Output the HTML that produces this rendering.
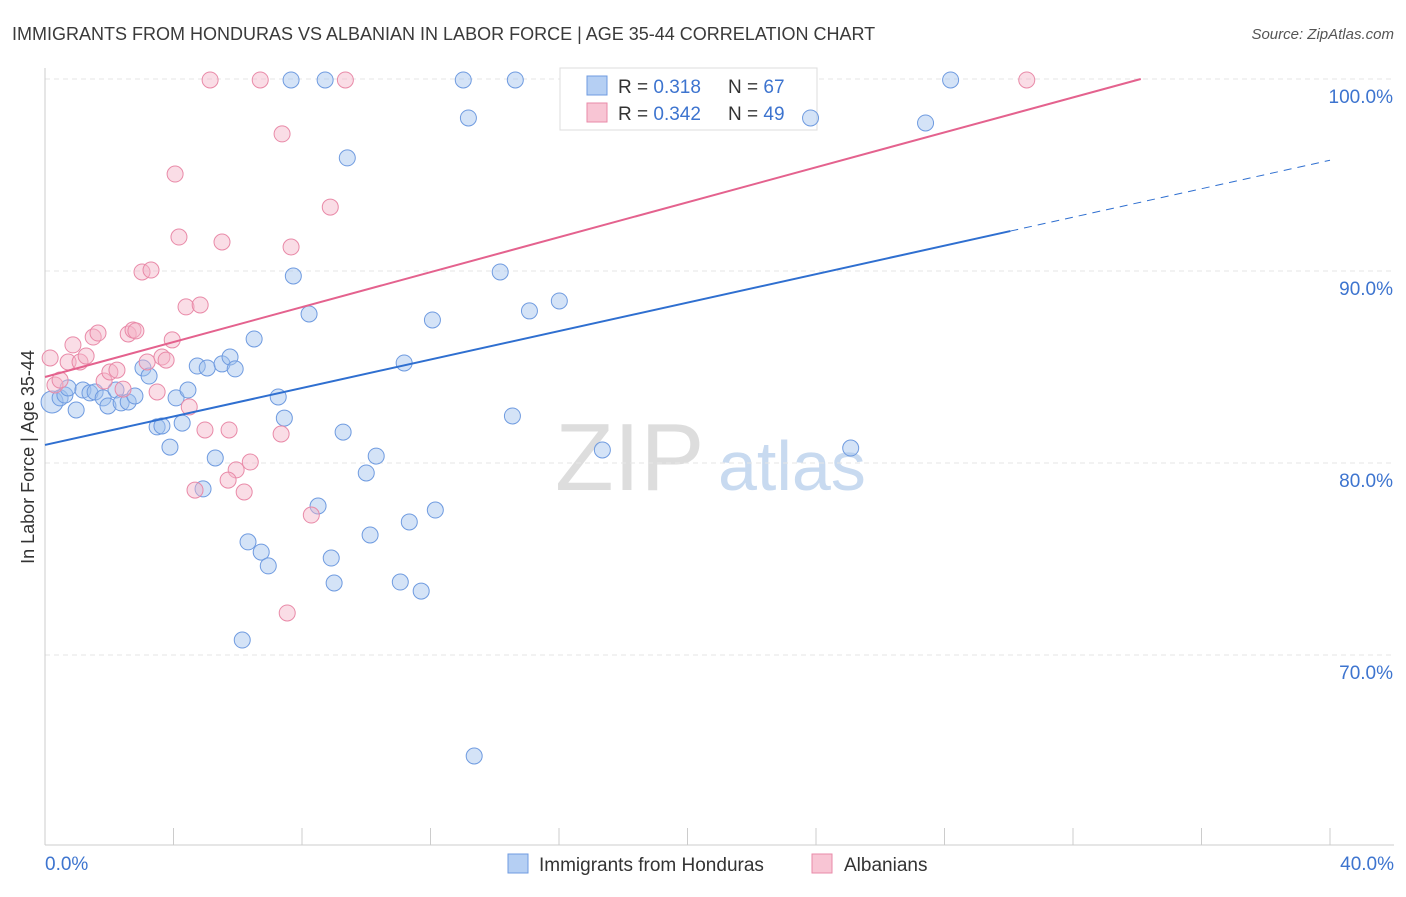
<!DOCTYPE html>
<html><head><meta charset="utf-8"><style>
body{margin:0;background:#fff;font-family:"Liberation Sans",sans-serif;}
svg text{font-family:"Liberation Sans",sans-serif;}
</style></head><body>
<svg id="chart" width="1406" height="892">
<text x="12" y="40" font-size="18" fill="#3a3a3a">IMMIGRANTS FROM HONDURAS VS ALBANIAN IN LABOR FORCE | AGE 35-44 CORRELATION CHART</text>
<text x="1394" y="39" font-size="15" fill="#555" text-anchor="end" font-style="italic">Source: ZipAtlas.com</text>
<text transform="translate(34,457) rotate(-90)" font-size="18" fill="#333" text-anchor="middle">In Labor Force | Age 35-44</text>
<g>
<text x="555" y="490" font-size="96" fill="#ddd" font-family="Liberation Serif">ZIP</text>
<text x="718" y="490" font-size="70" fill="#c8daf0">atlas</text>
</g>
<g id="grid"></g>
<g>
<rect x="560" y="68" width="257" height="62" fill="#fff" stroke="#ddd"/>
<rect x="587" y="76" width="20" height="19" fill="#b5cff3" stroke="#6f9be0"/>
<rect x="587" y="103" width="20" height="19" fill="#f8c5d4" stroke="#e98aa8"/>
<text x="618" y="93" font-size="19" fill="#333">R = <tspan fill="#3d74cf">0.318</tspan></text>
<text x="728" y="93" font-size="19" fill="#333">N = <tspan fill="#3d74cf">67</tspan></text>
<text x="618" y="120" font-size="19" fill="#333">R = <tspan fill="#3d74cf">0.342</tspan></text>
<text x="728" y="120" font-size="19" fill="#333">N = <tspan fill="#3d74cf">49</tspan></text>
</g>
<g id="pts"></g><g id="lines"></g>
<g>
<rect x="508" y="854" width="20" height="19" fill="#b5cff3" stroke="#6f9be0"/>
<text x="539" y="871" font-size="19" fill="#333">Immigrants from Honduras</text>
<rect x="812" y="854" width="20" height="19" fill="#f8c5d4" stroke="#e98aa8"/>
<text x="844" y="871" font-size="19" fill="#333">Albanians</text>
</g>
</svg>
<script>
const yTicks=[100,90,80,70];
const xTickLabels=["0.0%","40.0%"];
const blueX=[0.22,0.47,0.62,0.97,0.72,1.18,1.40,1.56,1.81,1.96,2.21,2.37,2.59,2.80,3.05,3.24,3.49,3.64,3.89,4.08,4.27,4.45,4.74,4.92,5.05,5.30,5.51,5.76,5.92,6.32,6.51,6.73,6.95,6.14,7.26,7.45,7.66,7.73,8.22,8.50,8.72,8.91,9.00,9.28,9.41,10.0,10.12,10.31,11.06,11.18,11.34,11.71,12.06,12.15,13.02,13.18,13.36,14.17,14.55,14.64,15.08,16.01,17.35,23.83,25.08,27.41,28.19];
const blueY=[83.18,83.39,83.54,82.76,83.91,83.80,83.65,83.70,83.39,82.97,83.80,83.13,83.18,83.49,84.95,84.53,81.88,81.93,80.83,83.39,82.08,83.80,85.05,78.65,84.95,80.26,85.16,85.52,84.90,75.89,86.46,75.36,74.64,70.78,83.44,82.34,99.95,89.74,87.76,77.76,99.95,75.05,73.75,81.61,95.89,79.48,76.25,80.36,73.80,85.21,76.93,73.33,87.45,77.55,99.95,97.97,64.74,89.95,82.45,99.95,87.92,88.44,80.68,97.97,80.78,97.71,99.95];
const pinkX=[0.16,0.31,0.47,0.72,0.87,1.09,1.28,1.50,1.65,1.84,2.02,2.24,2.43,2.59,2.74,2.83,3.02,3.18,3.30,3.49,3.64,3.77,3.96,4.05,4.17,4.39,4.49,4.67,4.83,4.98,5.14,5.51,5.73,5.95,5.70,6.20,6.39,6.70,7.38,7.35,7.66,8.29,7.54,8.88,9.35,30.56];
const pinkY=[85.47,84.06,84.32,85.26,86.15,85.26,85.57,86.56,86.77,84.27,84.74,84.84,83.85,86.72,86.93,86.88,89.95,85.26,90.05,83.70,85.52,85.36,86.41,95.05,91.77,88.13,82.92,78.59,88.23,81.72,99.95,91.51,81.72,79.64,79.11,78.49,80.05,99.95,97.14,81.51,91.25,77.29,72.19,93.33,99.95,99.95];
const blueTrend=[80.94,0.3707]; const pinkTrend=[84.48,0.455];
const NS="http://www.w3.org/2000/svg";
const sx=v=>45+v*32.125, sy=v=>79+(100-v)*19.2;
function mk(tag,attrs,parent){const e=document.createElementNS(NS,tag);for(const k in attrs)e.setAttribute(k,attrs[k]);parent.appendChild(e);return e;}
const grid=document.getElementById('grid');
yTicks.forEach(t=>{
 const l=mk('line',{x1:45,x2:1394,y1:sy(t),y2:sy(t),stroke:'#e6e6e6','stroke-dasharray':'5,4'},grid);
 
 
 const tx=mk('text',{x:1393,y:sy(t)+24,'font-size':19,fill:'#3d74cf','text-anchor':'end'},grid);
 tx.textContent=t.toFixed(1)+'%';
 
 
});
const ax=mk('line',{x1:45,x2:1394,y1:845,y2:845,stroke:'#ccc'},grid);


const ay=mk('line',{x1:45,x2:45,y1:68,y2:845,stroke:'#ccc'},grid);


for(let i=0;i<=10;i++){const tk=mk('line',{x1:sx(i*4),x2:sx(i*4),y1:828,y2:845,stroke:'#ccc'},grid);
 
 }
[[0,'start',45],[40,'end',1394]].forEach((d,i)=>{const t=mk('text',{x:d[2],y:870,'font-size':19,fill:'#3d74cf','text-anchor':d[1]},grid);t.textContent=xTickLabels[i];
 
 });
const pts=document.getElementById('pts');
blueX.forEach((x,i)=>{const c=mk('circle',{cx:sx(x),cy:sy(blueY[i]),r:i==0?11:8,fill:'rgba(160,192,238,0.45)',stroke:'#6f9be0','stroke-width':1},pts);
 
 });
pinkX.forEach((x,i)=>{const c=mk('circle',{cx:sx(x),cy:sy(pinkY[i]),r:8,fill:'rgba(245,180,200,0.45)',stroke:'#e98aa8','stroke-width':1},pts);
 
 });
const lines=document.getElementById('lines');
const bl=mk('line',{x1:sx(0),y1:sy(blueTrend[0]),x2:sx(30.05),y2:sy(blueTrend[0]+blueTrend[1]*30.05),stroke:'#2f6fd0','stroke-width':2},lines);


const bd=mk('line',{x1:sx(30.05),y1:sy(blueTrend[0]+blueTrend[1]*30.05),x2:sx(40),y2:sy(blueTrend[0]+blueTrend[1]*40),stroke:'#2f6fd0','stroke-width':1,'stroke-dasharray':'8,6'},lines);


const xe=(100-pinkTrend[0])/pinkTrend[1];
const pl=mk('line',{x1:sx(0),y1:sy(pinkTrend[0]),x2:sx(xe),y2:sy(100),stroke:'#e4628e','stroke-width':2},lines);


</script>
</body></html>
